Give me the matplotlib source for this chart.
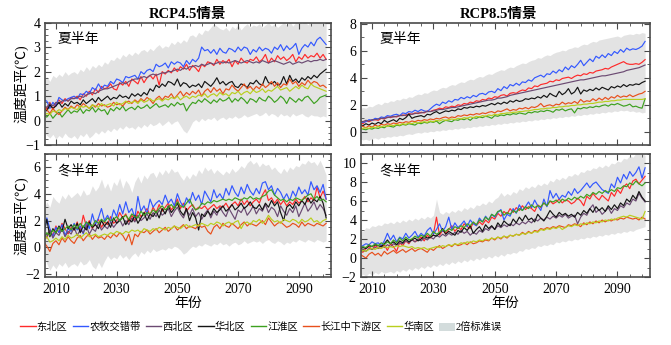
import numpy as np
import matplotlib
matplotlib.use("Agg")
import matplotlib.pyplot as plt
from matplotlib.ticker import MultipleLocator, FixedLocator
from matplotlib.lines import Line2D
from matplotlib.patches import Patch

plt.rcParams['font.family'] = ['Liberation Serif', 'Noto Sans CJK SC']
plt.rcParams['axes.unicode_minus'] = True

years = np.arange(2006, 2100)

regions = ["东北区", "农牧交错带", "西北区", "华北区", "江淮区", "长江中下游区", "华南区"]
colors = ["#ff2a2a", "#3358ff", "#6b4a72", "#141414", "#3da11f", "#e8501c", "#b9cf1e"]
band_label = "2倍标准误"
panel_titles = ["RCP4.5情景", "RCP8.5情景"]
season_labels = ["夏半年", "冬半年"]
ylabel_text = "温度距平(℃)"
xlabel_text = "年份"

# ---------------- RCP4.5, summer half-year ----------------
s45_ne = [0.6, 0.5, 0.75, 0.45, 0.7, 0.85, 0.7, 0.9, 0.8, 0.95,
          0.9, 1.0, 0.85, 1.1, 1.0, 1.2, 1.05, 1.3, 1.15, 1.4,
          1.3, 1.35, 1.5, 1.3, 1.25, 1.55, 1.45, 1.6, 1.4, 1.7,
          1.6, 1.5, 1.8, 1.55, 1.75, 1.85, 1.7, 1.9, 1.45, 2.0,
          1.9, 2.05, 1.95, 2.15, 2.0, 2.2, 2.1, 2.3, 2.05, 2.25,
          2.15, 2.0, 2.3, 2.2, 2.4, 2.35, 2.25, 2.5, 2.3, 2.45,
          2.35, 2.5, 2.2, 2.45, 2.3, 2.55, 2.4, 2.35, 2.5, 2.45,
          2.6, 2.4, 2.5, 2.7, 2.35, 2.55, 2.4, 2.65, 2.5, 2.6,
          2.45, 2.55, 2.7, 2.4, 2.6, 2.5, 2.7, 2.55, 2.65, 2.6,
          2.75, 2.55, 2.7, 2.5]
s45_nm = [0.85, 0.8, 0.5, 0.75, 0.6, 0.95, 0.85, 0.8, 0.9, 0.95,
          1.0, 0.9, 1.1, 1.05, 1.2, 1.1, 1.35, 1.25, 1.5, 1.3,
          1.45, 1.4, 1.6, 1.5, 1.7, 1.65, 1.55, 1.8, 1.75, 1.8,
          1.85, 1.7, 2.0, 1.9, 2.05, 2.1, 2.0, 2.3, 2.2, 2.25,
          2.35, 2.15, 2.4, 2.3, 2.4, 2.35, 2.2, 2.45, 2.3, 2.5,
          2.4, 2.55, 3.0, 2.85, 2.9, 2.75, 2.9, 2.7, 2.95, 2.8,
          2.75, 2.95, 2.9, 2.8, 3.0, 2.85, 3.0, 2.95, 2.7, 2.9,
          2.8, 3.0, 2.85, 2.95, 2.9, 2.75, 3.0, 2.9, 3.1, 2.85,
          3.05, 2.9, 3.0, 3.15, 2.7, 2.95, 3.1, 3.0, 3.2, 3.05,
          3.3, 3.4, 3.25, 3.1]
s45_nw = [0.6, 0.55, 0.7, 0.6, 0.75, 0.7, 0.8, 0.85, 0.8, 0.9,
          0.9, 0.95, 1.0, 0.95, 1.05, 1.1, 1.15, 1.1, 1.2, 1.25,
          1.3, 1.3, 1.35, 1.4, 1.45, 1.5, 1.55, 1.5, 1.6, 1.65,
          1.7, 1.7, 1.75, 1.8, 1.75, 1.85, 1.9, 1.85, 1.9, 1.95,
          1.95, 2.0, 2.0, 2.05, 2.1, 2.05, 2.15, 2.1, 2.2, 2.2,
          2.25, 2.2, 2.3, 2.25, 2.3, 2.35, 2.3, 2.35, 2.4, 2.35,
          2.4, 2.35, 2.4, 2.45, 2.4, 2.35, 2.4, 2.45, 2.4, 2.35,
          2.4, 2.35, 2.45, 2.4, 2.35, 2.4, 2.45, 2.4, 2.35, 2.3,
          2.35, 2.4, 2.3, 2.35, 2.4, 2.35, 2.4, 2.45, 2.4, 2.45,
          2.45, 2.5, 2.45, 2.5]
s45_nc = [0.55, 0.4, 0.65, 0.5, 0.6, 0.75, 0.55, 0.7, 0.6, 0.8,
          0.7, 0.75, 0.65, 0.85, 0.7, 0.8, 0.9, 0.75, 0.95, 0.8,
          0.9, 1.0, 0.85, 0.95, 0.9, 1.05, 0.95, 1.0, 0.9, 1.1,
          1.0, 1.1, 1.0, 1.15, 1.05, 1.3, 1.2, 1.45, 1.35, 1.5,
          1.4, 1.6, 1.55, 1.45, 1.7, 1.4, 1.55, 1.5, 1.35, 1.45,
          1.4, 1.5, 1.35, 1.6, 1.5, 1.4, 1.55, 1.75, 1.5, 1.6,
          1.45, 1.55, 1.6, 1.4, 1.35, 1.5, 1.45, 1.35, 1.55, 1.5,
          1.65, 1.5, 1.45, 1.8, 1.55, 1.5, 1.6, 1.45, 1.5, 1.8,
          1.5, 1.85, 1.6, 1.7, 1.55, 1.75, 1.65, 1.8, 1.7, 1.85,
          1.75, 1.9, 2.0, 2.1]
s45_jh = [0.2, 0.15, 0.3, 0.1, 0.25, 0.35, 0.15, 0.3, 0.45, 0.3,
          0.4, 0.35, 0.5, 0.3, 0.45, 0.4, 0.55, 0.35, 0.5, 0.4,
          0.45, 0.25, 0.5, 0.4, 0.55, 0.45, 0.6, 0.4, 0.5, 0.55,
          0.45, 0.6, 0.5, 0.55, 0.65, 0.5, 0.6, 0.7, 0.55, 0.6,
          0.65, 0.55, 0.7, 0.6, 0.75, 0.65, 0.7, 0.4, 0.6, 0.75,
          0.7, 0.85, 0.75, 0.9, 0.8, 0.7, 0.85, 0.75, 0.9, 0.8,
          0.85, 0.95, 0.75, 0.9, 0.8, 0.95, 0.85, 0.7, 0.9, 0.85,
          0.75, 0.95, 0.85, 0.8, 1.0, 0.9, 0.75, 0.85, 1.0, 0.9,
          0.7, 0.95, 0.85, 0.75, 0.9, 0.8, 0.95, 1.0, 0.85, 0.7,
          0.8, 0.95, 1.0, 1.05]
s45_yr = [0.55, 0.45, 0.3, 0.5, 0.35, 0.25, 0.4, 0.55, 0.45, 0.6,
          0.5, 0.65, 0.55, 0.7, 0.6, 0.5, 0.65, 0.55, 0.7, 0.6,
          0.65, 0.55, 0.6, 0.75, 0.65, 0.7, 0.6, 0.75, 0.8, 0.7,
          0.85, 0.75, 0.9, 0.8, 0.95, 0.85, 0.7, 0.9, 1.0, 0.85,
          1.0, 0.95, 1.1, 0.9, 1.05, 1.2, 1.0, 1.15, 1.05, 1.2,
          1.1, 1.25, 1.0, 1.2, 1.3, 1.15, 1.35, 1.2, 1.3, 1.1,
          1.3, 1.25, 1.45, 1.3, 1.2, 1.35, 1.5, 1.3, 1.4, 1.25,
          1.4, 1.3, 1.5, 1.35, 1.45, 1.6, 1.4, 1.55, 1.35, 1.5,
          1.45, 1.7, 1.5, 1.6, 1.4, 1.55, 1.45, 1.65, 1.5, 1.6,
          1.55, 1.4, 1.45, 1.35]
s45_sc = [0.2, 0.3, 0.25, 0.4, 0.35, 0.45, 0.4, 0.5, 0.45, 0.55,
          0.5, 0.45, 0.6, 0.55, 0.6, 0.5, 0.65, 0.6, 0.55, 0.7,
          0.6, 0.65, 0.7, 0.6, 0.75, 0.65, 0.7, 0.8, 0.7, 0.75,
          0.8, 0.7, 0.85, 0.75, 0.8, 0.9, 0.8, 0.85, 0.9, 0.8,
          0.9, 0.85, 0.95, 0.9, 1.0, 0.85, 0.95, 1.0, 0.9, 1.0,
          0.95, 1.05, 1.0, 1.1, 0.95, 1.05, 1.1, 1.0, 1.15, 1.05,
          1.1, 1.0, 1.15, 1.1, 1.2, 1.05, 1.15, 1.2, 1.1, 1.25,
          1.15, 1.2, 1.3, 1.15, 1.25, 1.2, 1.3, 1.4, 1.25, 1.3,
          1.35, 1.2, 1.3, 1.4, 1.3, 1.45, 1.35, 1.3, 1.5, 1.4,
          1.35, 1.3, 1.25, 1.2]
s45_hi = [1.7, 1.8, 1.6, 1.85, 1.75, 1.9, 1.8, 2.0, 1.85, 1.95,
          2.0, 1.9, 2.1, 2.0, 2.2, 2.05, 2.25, 2.15, 2.3, 2.2,
          2.4, 2.3, 2.5, 2.45, 2.6, 2.5, 2.7, 2.6, 2.75, 2.65,
          2.8, 2.7, 2.85, 2.9, 2.8, 2.95, 2.85, 3.0, 3.1, 2.95,
          3.05, 3.0, 3.2, 3.1, 3.25, 3.15, 3.3, 3.2, 3.45, 3.5,
          3.4, 3.6, 3.5, 3.7, 3.65, 3.8, 3.95, 3.85, 3.75, 3.7,
          3.8, 3.65, 3.85, 3.75, 3.9, 3.7, 3.85, 3.95, 3.8, 3.9,
          3.85, 3.95, 3.8, 3.9, 4.0, 3.85, 3.95, 3.8, 3.9, 4.0,
          3.9, 4.05, 3.85, 4.0, 4.1, 3.95, 4.05, 3.9, 4.1, 4.0,
          4.1, 4.0, 3.95, 4.05]
s45_lo = [-0.45, -0.6, -0.7, -0.55, -0.75, -0.6, -0.7, -0.5, -0.65, -0.7,
          -0.6, -0.75, -0.55, -0.65, -0.5, -0.7, -0.6, -0.45, -0.55, -0.4,
          -0.5, -0.35, -0.45, -0.3, -0.4, -0.25, -0.35, -0.2, -0.3, -0.25,
          -0.35, -0.2, -0.3, -0.15, -0.25, -0.1, -0.2, -0.15, -0.05, -0.2,
          -0.1, 0.0, -0.15, -0.05, 0.0, -0.2, -0.4, -0.5, -0.3, -0.05,
          0.05, -0.05, 0.1, 0.0, 0.1, 0.05, 0.15, 0.0, 0.1, 0.15,
          0.05, 0.15, 0.1, 0.2, 0.1, 0.15, 0.25, 0.15, 0.2, 0.25,
          0.3, 0.2, 0.25, 0.35, 0.2, 0.3, 0.25, 0.15, 0.3, 0.2,
          0.25, 0.15, 0.3, 0.2, 0.25, 0.3, 0.2, 0.15, 0.25, 0.2,
          0.2, 0.15, 0.2, 0.15]

# ---------------- RCP8.5, summer half-year ----------------
s85_ne = [0.7, 0.6, 0.8, 0.75, 0.85, 0.9, 0.85, 1.0, 0.95, 1.1,
          1.05, 1.15, 1.1, 1.2, 1.25, 1.2, 1.35, 1.3, 1.4, 1.35,
          1.45, 1.4, 1.55, 1.5, 1.6, 1.65, 1.75, 1.7, 1.85, 1.8,
          1.9, 1.85, 2.0, 1.95, 2.1, 2.05, 2.2, 2.15, 2.3, 2.25,
          2.4, 2.35, 2.5, 2.45, 2.6, 2.55, 2.7, 2.75, 2.65, 2.85,
          2.9, 2.85, 3.0, 3.1, 3.05, 3.25, 3.2, 3.4, 3.35, 3.5,
          3.55, 3.6, 3.75, 3.7, 3.85, 3.8, 3.95, 4.0, 4.05, 3.95,
          4.1, 4.2, 4.15, 4.3, 4.25, 4.4, 4.35, 4.5, 4.55, 4.6,
          4.7, 4.65, 4.8, 4.9, 5.0, 5.1, 5.2, 5.05, 5.0, 5.0,
          5.05, 5.0, 5.15, 5.35]
s85_nm = [0.8, 0.7, 0.75, 0.9, 0.85, 1.0, 0.95, 1.1, 1.05, 1.2,
          1.15, 1.25, 1.3, 1.2, 1.4, 1.35, 1.5, 1.45, 1.6, 1.5,
          1.65, 1.55, 1.5, 1.7, 1.9, 2.05, 1.95, 2.2, 2.1, 2.3,
          2.2, 2.4, 2.35, 2.55, 2.45, 2.6, 2.5, 2.7, 2.6, 2.8,
          2.85, 2.75, 2.95, 3.0, 2.9, 3.2, 3.05, 3.35, 3.2, 3.5,
          3.4, 3.6, 3.45, 3.7, 3.65, 3.85, 3.75, 4.0, 4.1, 4.2,
          4.05, 4.3, 4.25, 4.5, 4.35, 4.6, 4.45, 4.8, 4.6, 4.9,
          4.75, 5.0, 5.3, 4.9, 5.15, 5.4, 5.2, 5.6, 5.45, 5.7,
          5.5, 5.8, 5.65, 5.95, 5.8, 6.1, 5.9, 6.2, 6.05, 6.15,
          6.1, 6.2, 6.35, 6.7]
s85_nw = [0.8, 0.75, 0.85, 0.8, 0.9, 0.9, 0.95, 1.0, 1.0, 1.05,
          1.1, 1.1, 1.15, 1.2, 1.2, 1.25, 1.3, 1.3, 1.35, 1.4,
          1.4, 1.45, 1.5, 1.5, 1.55, 1.6, 1.65, 1.65, 1.7, 1.75,
          1.8, 1.8, 1.85, 1.9, 1.95, 2.0, 2.05, 2.1, 2.15, 2.2,
          2.25, 2.3, 2.35, 2.35, 2.4, 2.5, 2.5, 2.55, 2.6, 2.7,
          2.75, 2.8, 2.85, 2.9, 2.95, 3.0, 3.05, 3.1, 3.15, 3.2,
          3.25, 3.3, 3.35, 3.4, 3.45, 3.5, 3.55, 3.6, 3.65, 3.7,
          3.75, 3.8, 3.85, 3.85, 3.9, 3.95, 4.0, 4.05, 4.1, 4.15,
          4.15, 4.2, 4.25, 4.3, 4.35, 4.4, 4.45, 4.55, 4.6, 4.65,
          4.7, 4.75, 4.85, 4.95]
s85_nc = [0.55, 0.45, 0.6, 0.5, 0.65, 0.55, 0.7, 0.6, 0.85, 0.7,
          0.8, 0.9, 0.75, 1.0, 0.9, 1.05, 1.3, 1.0, 1.1, 1.15,
          1.2, 1.1, 1.3, 1.25, 1.4, 1.5, 1.35, 1.45, 1.55, 1.5,
          1.6, 1.55, 1.7, 1.65, 1.8, 1.75, 1.85, 1.8, 1.9, 1.85,
          1.95, 1.9, 2.0, 2.1, 2.0, 2.15, 2.05, 2.2, 2.1, 2.3,
          2.2, 2.35, 2.25, 2.3, 2.45, 2.4, 2.5, 2.45, 2.6, 2.5,
          2.7, 2.55, 2.85, 2.7, 2.6, 3.0, 2.75, 2.9, 3.2, 2.8,
          2.95, 3.3, 2.8, 3.1, 3.0, 3.15, 3.05, 3.25, 3.1, 3.3,
          3.2, 3.1, 3.35, 3.25, 3.4, 3.3, 3.5, 3.35, 3.5, 3.45,
          3.55, 3.5, 3.65, 3.75]
s85_jh = [0.3, 0.2, 0.15, 0.25, 0.2, 0.3, 0.25, 0.35, 0.3, 0.45,
          0.4, 0.35, 0.5, 0.45, 0.55, 0.5, 0.6, 0.55, 0.5, 0.65,
          0.6, 0.7, 0.65, 0.75, 0.7, 0.8, 0.6, 0.75, 0.85, 0.8,
          0.75, 0.9, 0.85, 0.95, 0.9, 1.0, 0.85, 1.05, 1.0, 1.1,
          1.05, 1.15, 1.1, 1.0, 1.2, 1.15, 1.25, 1.2, 1.3, 1.25,
          1.35, 1.3, 1.4, 1.35, 1.3, 1.45, 1.4, 1.5, 1.45, 1.55,
          1.5, 1.6, 1.55, 1.45, 1.65, 1.6, 1.7, 1.55, 1.65, 1.7,
          1.4, 1.75, 1.7, 1.8, 1.75, 1.85, 1.8, 1.9, 1.85, 1.95,
          2.0, 1.9, 2.05, 2.0, 2.1, 2.0, 1.9, 1.95, 2.05, 1.85,
          1.9, 1.8, 1.75, 2.45]
s85_yr = [0.5, 0.4, 0.3, 0.45, 0.35, 0.5, 0.4, 0.55, 0.5, 0.6,
          0.55, 0.65, 0.6, 0.7, 0.65, 0.75, 0.7, 0.8, 0.75, 0.85,
          0.8, 0.9, 0.85, 0.95, 0.9, 1.0, 0.95, 1.05, 1.1, 1.0,
          1.1, 1.05, 1.2, 1.15, 1.25, 1.2, 1.3, 1.25, 1.35, 1.3,
          1.4, 1.35, 1.45, 1.5, 1.4, 1.55, 1.5, 1.6, 1.7, 1.55,
          1.65, 1.6, 1.75, 1.7, 1.8, 1.7, 1.85, 1.8, 1.9, 2.1,
          1.85, 1.95, 2.0, 1.9, 2.05, 2.0, 2.2, 2.05, 2.15, 2.1,
          2.25, 2.1, 2.4, 2.2, 2.3, 2.25, 2.45, 2.3, 2.5, 2.35,
          2.55, 2.4, 2.6, 2.5, 2.7, 2.55, 2.65, 2.6, 2.75, 2.6,
          2.7, 2.8, 2.85, 3.0]
s85_sc = [0.2, 0.25, 0.3, 0.25, 0.35, 0.3, 0.4, 0.35, 0.45, 0.4,
          0.5, 0.45, 0.55, 0.5, 0.6, 0.55, 0.65, 0.6, 0.7, 0.65,
          0.7, 0.75, 0.7, 0.8, 0.75, 0.85, 0.8, 0.9, 0.85, 0.9,
          0.95, 0.9, 1.0, 0.95, 1.05, 1.0, 1.1, 1.05, 1.15, 1.1,
          1.2, 1.15, 1.25, 1.2, 1.3, 1.25, 1.35, 1.35, 1.4, 1.4,
          1.45, 1.45, 1.5, 1.5, 1.55, 1.55, 1.6, 1.65, 1.65, 1.7,
          1.7, 1.75, 1.75, 1.8, 1.8, 1.85, 1.85, 1.9, 1.9, 1.95,
          1.95, 2.0, 2.0, 2.05, 2.05, 2.1, 2.1, 2.15, 2.2, 2.2,
          2.25, 2.25, 2.3, 2.3, 2.35, 2.35, 2.4, 2.4, 2.4, 2.4,
          2.4, 2.4, 2.4, 2.45]
s85_hi = [1.7, 1.8, 1.75, 1.9, 1.85, 2.0, 2.1, 2.0, 2.2, 2.15,
          2.3, 2.25, 2.4, 2.35, 2.5, 2.45, 2.6, 2.55, 2.7, 2.8,
          2.75, 2.9, 2.85, 3.0, 3.1, 3.05, 3.2, 3.3, 3.25, 3.4,
          3.5, 3.45, 3.6, 3.7, 3.65, 3.8, 3.9, 3.85, 4.0, 4.1,
          4.05, 4.2, 4.3, 4.25, 4.4, 4.5, 4.6, 4.55, 4.7, 4.8,
          4.75, 4.9, 5.0, 5.1, 5.05, 5.2, 5.3, 5.35, 5.5, 5.45,
          5.6, 5.7, 5.65, 5.8, 5.9, 5.95, 6.05, 6.0, 6.15, 6.2,
          6.3, 6.25, 6.4, 6.5, 6.45, 6.6, 6.7, 6.65, 6.8, 6.85,
          6.9, 6.95, 7.0, 7.05, 7.1, 7.0, 7.15, 7.2, 7.25, 7.2,
          7.3, 7.25, 7.35, 7.3]
s85_lo = [-0.5, -0.6, -0.55, -0.65, -0.5, -0.45, -0.55, -0.4, -0.45, -0.35,
          -0.4, -0.3, -0.35, -0.25, -0.3, -0.2, -0.15, -0.2, -0.1, -0.05,
          -0.1, 0.0, -0.05, 0.05, 0.0, 0.1, 0.05, 0.15, 0.1, 0.2,
          0.15, 0.25, 0.2, 0.3, 0.25, 0.35, 0.3, 0.4, 0.35, 0.45,
          0.4, 0.5, 0.45, 0.55, 0.5, 0.6, 0.55, 0.65, 0.6, 0.7,
          0.65, 0.75, 0.7, 0.8, 0.75, 0.85, 0.8, 0.9, 0.85, 0.95,
          0.9, 1.0, 0.95, 1.05, 1.0, 1.1, 1.05, 1.15, 1.1, 1.2,
          1.15, 1.25, 1.2, 1.3, 1.25, 1.35, 1.3, 1.4, 1.35, 1.45,
          1.4, 1.5, 1.45, 1.55, 1.5, 1.6, 1.55, 1.6, 1.5, 1.55,
          1.45, 1.5, 1.4, 1.45]

# ---------------- RCP4.5, winter half-year ----------------
w45_ne = [1.0, 0.7, 1.3, 0.9, 1.6, 1.1, 1.8, 1.4, 1.0, 1.5,
          1.3, 1.9, 1.2, 2.4, 1.6, 2.0, 1.4, 1.8, 2.1, 1.5,
          1.9, 1.7, 2.3, 1.8, 2.0, 2.6, 2.2, 2.5, 1.9, 2.4,
          2.0, 2.7, 2.3, 2.5, 2.9, 2.4, 3.0, 2.6, 3.2, 2.7,
          3.0, 3.3, 2.8, 3.1, 3.6, 2.9, 3.3, 2.7, 3.0, 3.2,
          2.8, 3.0, 2.9, 3.1, 2.8, 3.0, 3.2, 2.9, 3.1, 3.0,
          3.3, 2.9, 3.2, 3.4, 3.1, 3.6, 3.2, 3.5, 3.1, 3.4,
          3.6, 3.3, 3.9, 4.3, 3.5, 3.7, 3.3, 3.6, 3.2, 3.5,
          3.1, 3.4, 3.2, 3.6, 3.3, 3.5, 3.8, 3.4, 3.7, 3.5,
          4.5, 3.7, 4.2, 3.6]
w45_nm = [0.9, 2.2, 1.4, 0.8, 1.5, 1.1, 1.7, 0.9, 1.4, 1.2,
          1.8, 1.3, 1.6, 1.0, 1.9, 1.4, 2.5, 1.7, 2.2, 2.9,
          2.0, 2.4, 1.9, 2.8, 2.3, 3.2, 2.5, 3.4, 2.6, 2.9,
          2.2, 3.8, 2.7, 3.1, 2.5, 3.6, 3.0, 3.3, 3.5, 3.2,
          3.9, 3.3, 3.6, 3.1, 4.0, 3.4, 3.0, 3.7, 3.3, 4.1,
          3.5, 3.9, 3.2, 4.2, 3.8, 3.4, 4.3, 3.7, 4.0, 3.6,
          4.4, 3.9, 4.6, 4.1, 3.8, 4.5, 4.0, 4.7, 4.2, 3.9,
          4.4, 4.0, 4.8, 4.9, 4.3, 4.6, 3.9, 4.4, 4.1, 3.6,
          4.0, 3.5, 4.2, 3.8, 4.5, 4.0, 4.3, 3.9, 4.9, 4.3,
          4.6, 4.1, 4.7, 3.6]
w45_nw = [1.0, 0.8, 1.3, 0.7, 1.1, 0.9, 1.4, 0.8, 1.2, 1.0,
          1.5, 0.9, 1.3, 1.1, 1.6, 1.0, 1.4, 1.2, 1.8, 1.3,
          1.6, 1.4, 1.9, 1.5, 1.8, 2.1, 1.6, 2.0, 1.7, 2.2,
          1.9, 2.4, 2.0, 2.2, 2.5, 2.1, 2.6, 2.3, 2.8, 2.4,
          2.6, 2.9, 2.3, 2.7, 3.0, 2.5, 2.2, 2.8, 2.4, 2.9,
          2.3, 2.6, 2.1, 2.5, 2.8, 2.2, 2.7, 2.4, 3.0, 2.6,
          2.3, 2.9, 2.5, 2.1, 2.8, 2.6, 3.0, 2.4, 2.7, 3.1,
          2.5, 2.9, 2.7, 3.2, 2.6, 3.0, 2.8, 2.3, 3.1, 2.7,
          2.4, 2.9, 2.6, 3.1, 2.3, 2.8, 3.3, 2.7, 3.0, 3.4,
          2.8, 3.2, 2.9, 2.4]
w45_nc = [1.0, 2.1, 0.8, 1.4, 1.1, 1.6, 1.2, 2.1, 1.4, 1.7,
          1.3, 1.8, 1.1, 1.6, 1.3, 1.9, 1.5, 1.7, 1.4, 2.0,
          1.6, 1.9, 1.5, 2.2, 1.8, 2.0, 2.3, 1.7, 2.1, 1.9,
          2.4, 1.8, 2.2, 2.6, 2.0, 2.5, 2.3, 2.7, 2.2, 2.9,
          2.5, 3.1, 2.6, 2.9, 3.3, 2.7, 2.4, 2.9, 2.0, 2.6,
          2.2, 1.3, 2.5, 2.3, 2.7, 2.4, 2.9, 2.6, 2.8, 3.1,
          2.7, 2.9, 3.2, 2.8, 3.0, 3.3, 2.9, 3.1, 3.4, 3.0,
          2.9, 3.2, 2.8, 3.3, 3.0, 3.5, 3.1, 3.4, 2.6, 2.0,
          3.0, 3.2, 2.9, 3.4, 3.1, 3.5, 3.2, 3.7, 3.3, 3.6,
          3.4, 3.8, 3.3, 2.2]
w45_jh = [0.7, 1.1, 0.9, 1.3, 1.1, 1.5, 1.2, 1.4, 1.6, 1.3,
          1.7, 1.4, 1.8, 1.5, 1.9, 1.7, 1.6, 2.0, 1.8, 2.1,
          1.9, 2.2, 2.0, 2.1, 2.3, 2.0, 2.2, 2.4, 2.1, 2.5,
          2.3, 2.2, 2.7, 2.4, 2.6, 2.5, 2.8, 2.6, 2.9, 3.1,
          2.8, 3.0, 3.2, 2.9, 3.4, 3.1, 3.0, 3.3, 3.6, 3.1,
          2.8, 2.9, 3.3, 3.2, 3.4, 3.3, 3.5, 3.4, 3.5, 3.6,
          3.5, 3.6, 3.5, 3.7, 3.6, 3.5, 3.7, 3.6, 3.8, 3.6,
          3.7, 3.6, 3.8, 3.9, 4.2, 4.3, 3.9, 3.7, 3.5, 3.6,
          3.4, 3.6, 3.5, 3.7, 3.6, 3.5, 3.7, 3.9, 4.0, 3.6,
          3.8, 3.5, 3.6, 3.4]
w45_yr = [0.4, 0.1, -0.3, 0.3, 0.5, 0.2, 0.7, 0.4, 0.8, 0.5,
          0.3, 0.7, 0.9, 0.5, 0.8, 1.0, 0.6, 0.9, 0.7, 0.8,
          0.6, 0.9, 0.7, 1.0, 0.8, 1.1, 0.9, 0.5, 1.0, 0.2,
          1.0, 0.8, 1.2, 1.1, 1.3, 1.0, 1.2, 1.4, 1.1, 1.3,
          1.5, 1.2, 1.4, 1.6, 1.3, 1.5, 1.7, 1.4, 1.6, 1.5,
          1.4, 1.7, 1.5, 1.6, 1.2, 1.0, 1.5, 1.7, 1.4, 1.8,
          1.6, 1.5, 1.8, 1.6, 1.4, 1.7, 1.9, 1.6, 1.8, 1.7,
          1.6, 1.8, 2.0, 1.7, 2.2, 1.9, 1.6, 1.8, 1.9, 1.7,
          1.5, 1.6, 1.8, 1.7, 1.5, 1.9, 1.6, 1.8, 1.7, 1.6,
          1.8, 1.7, 1.6, 1.8]
w45_sc = [0.6, 0.8, 0.4, 0.5, 0.7, 0.5, 0.8, 0.6, 0.9, 0.7,
          0.8, 1.0, 0.7, 0.9, 1.1, 0.8, 0.9, 1.0, 0.8, 0.9,
          1.0, 0.9, 1.1, 1.0, 1.2, 1.1, 1.0, 1.2, 1.1, 1.3,
          1.2, 1.3, 1.1, 1.4, 1.3, 1.2, 1.4, 1.3, 1.5, 1.4,
          1.3, 1.5, 1.4, 1.6, 1.5, 1.4, 1.6, 1.7, 1.5, 1.6,
          1.7, 1.6, 1.8, 1.7, 1.6, 1.8, 1.7, 1.9, 1.8, 1.6,
          1.8, 1.9, 1.7, 1.9, 2.0, 1.4, 1.8, 1.9, 1.7, 2.0,
          1.9, 2.1, 1.8, 2.0, 2.4, 2.1, 1.9, 2.0, 1.8, 2.1,
          2.0, 1.9, 2.1, 2.0, 1.8, 2.1, 1.9, 2.0, 2.2, 1.9,
          2.0, 1.8, 2.0, 2.1]
w45_hi = [2.9, 3.4, 3.0, 3.8, 3.5, 3.3, 3.9, 3.6, 4.0, 3.7,
          3.9, 4.1, 3.8, 4.3, 3.9, 4.0, 4.6, 4.2, 4.5, 5.1,
          4.4, 4.8, 4.2, 4.9, 4.6, 5.2, 4.4, 5.0, 4.7, 4.1,
          4.9, 5.3, 4.8, 5.4, 5.1, 5.5, 5.6, 5.2, 5.7, 5.4,
          5.8, 5.5, 5.9, 5.6, 5.7, 5.3, 5.0, 5.4, 5.1, 5.5,
          5.3, 5.8, 5.5, 6.0, 5.7, 5.9, 5.5, 5.8, 5.6, 5.4,
          5.7, 5.5, 5.9, 5.6, 5.8, 6.1, 5.9, 6.3, 6.5, 6.2,
          6.4, 6.0, 6.3, 6.1, 6.2, 5.8, 6.0, 5.7, 5.5, 5.9,
          5.6, 6.0, 5.8, 6.1, 6.0, 6.3, 6.2, 6.5, 6.3, 6.4,
          6.1, 6.5, 6.0, 5.4]
w45_lo = [-0.5, -1.2, -1.7, -1.3, -1.6, -1.2, -1.4, -1.1, -1.5, -1.3,
          -1.2, -1.4, -1.0, -1.3, -1.2, -0.9, -1.4, -1.6, -1.1, -1.5,
          -1.0, -0.6, -0.9, -0.7, -0.85, -0.5, -0.8, -0.6, -0.9, -0.6,
          -0.4, -0.7, -0.3, -0.5, -0.2, -0.4, -0.1, -0.3, -0.2, -0.1,
          -0.2, 0.0, -0.1, 0.1, 0.0, -0.2, -0.5, -0.35, -0.1, 0.1,
          0.0, 0.2, 0.1, 0.3, 0.2, 0.1, 0.3, 0.2, 0.4, 0.2,
          0.3, 0.1, 0.3, 0.4, 0.2, 0.3, 0.5, 0.3, 0.4, 0.5,
          0.4, 0.5, 0.3, 0.5, 0.6, 0.4, 0.3, 0.5, 0.4, 0.2,
          0.4, 0.3, 0.5, 0.4, 0.6, 0.5, 0.4, 0.6, 0.5, 0.4,
          0.6, 0.5, 0.4, 0.5]

# ---------------- RCP8.5, winter half-year ----------------
w85_ne = [0.8, 0.6, 1.0, 1.2, 0.9, 1.3, 1.1, 1.0, 1.4, 0.8,
          1.5, 1.2, 0.7, 1.6, 1.3, 1.8, 1.5, 2.0, 1.7, 1.9,
          2.2, 1.8, 2.4, 2.1, 2.5, 4.3, 2.4, 2.9, 2.6, 3.0,
          3.4, 2.8, 3.2, 3.0, 3.6, 3.3, 3.1, 3.7, 3.4, 3.8,
          3.5, 4.0, 3.7, 4.3, 4.1, 4.7, 4.4, 4.9, 4.6, 5.2,
          4.8, 5.3, 5.0, 5.5, 5.1, 5.4, 5.2, 4.9, 5.6, 5.3,
          5.8, 5.5, 6.0, 5.7, 5.9, 6.2, 5.8, 6.1, 6.0, 5.7,
          5.9, 6.3, 6.0, 5.5, 6.5, 6.2, 6.8, 6.4, 6.1, 6.6,
          6.3, 6.0, 6.9, 6.5, 7.2, 6.8, 7.5, 7.8, 7.3, 8.1,
          8.3, 7.8, 8.2, 8.6]
w85_nm = [1.1, 1.3, 1.5, 1.4, 1.7, 1.5, 1.6, 1.3, 1.8, 2.6,
          1.9, 2.4, 1.7, 2.2, 2.0, 2.6, 2.1, 2.4, 2.8, 2.2,
          2.6, 2.3, 2.9, 3.2, 2.5, 3.0, 3.6, 2.8, 3.3, 4.3,
          3.0, 3.7, 3.2, 3.5, 3.9, 3.3, 4.0, 3.6, 3.4, 4.2,
          3.8, 4.4, 4.0, 4.6, 4.3, 4.8, 5.1, 4.0, 4.6, 4.4,
          5.2, 4.7, 5.6, 5.0, 5.4, 5.9, 5.3, 6.1, 5.5, 5.0,
          6.2, 5.4, 7.1, 6.3, 6.8, 6.2, 6.6, 6.4, 7.0, 6.6,
          7.3, 6.8, 7.1, 7.5, 7.9, 7.4, 7.8, 8.0, 7.6, 7.2,
          7.0, 6.8, 7.8, 7.4, 8.5, 7.9, 8.8, 8.3, 9.1, 8.6,
          9.0, 9.6, 8.4, 9.5]
w85_nw = [0.6, 0.8, 0.7, 1.0, 0.9, 1.1, 1.0, 1.3, 1.1, 1.4,
          1.2, 1.5, 1.3, 1.6, 1.5, 1.8, 1.6, 1.9, 1.7, 2.0,
          1.8, 2.1, 1.9, 2.2, 2.0, 2.4, 2.2, 2.5, 2.3, 2.6,
          2.4, 2.7, 2.5, 2.9, 2.6, 2.8, 2.4, 2.7, 2.5, 2.9,
          2.7, 3.1, 2.9, 3.3, 3.0, 3.4, 3.2, 3.5, 3.3, 3.6,
          3.4, 3.7, 3.5, 3.8, 3.6, 3.9, 3.7, 4.1, 3.9, 4.2,
          4.0, 4.3, 4.1, 4.4, 4.2, 4.5, 4.3, 4.6, 4.2, 4.4,
          4.5, 3.6, 4.3, 4.7, 4.5, 5.2, 5.6, 4.8, 5.1, 4.6,
          4.9, 5.3, 4.7, 5.2, 5.0, 5.5, 5.3, 5.8, 5.6, 6.2,
          6.0, 6.8, 6.3, 5.9]
w85_nc = [0.9, 1.1, 1.0, 1.3, 1.2, 1.4, 1.3, 1.2, 1.5, 1.9,
          1.5, 1.7, 1.4, 1.8, 1.6, 2.0, 1.7, 1.9, 2.1, 1.8,
          2.0, 2.3, 2.1, 2.2, 2.4, 2.3, 2.6, 3.1, 2.5, 2.8,
          2.6, 2.4, 2.9, 2.7, 3.2, 2.9, 3.4, 2.6, 3.0, 3.3,
          2.8, 3.5, 3.1, 3.4, 3.0, 3.7, 3.3, 3.9, 3.6, 3.4,
          4.1, 3.7, 4.3, 3.9, 4.5, 4.0, 4.2, 3.8, 4.6, 4.2,
          3.9, 4.4, 5.0, 4.6, 4.3, 4.8, 4.5, 4.7, 4.4, 4.6,
          4.3, 4.8, 4.5, 5.0, 4.7, 5.2, 4.8, 5.4, 5.0, 5.3,
          4.9, 5.5, 5.1, 5.6, 5.2, 5.8, 5.5, 6.2, 5.9, 6.6,
          6.2, 7.0, 6.4, 6.0]
w85_jh = [1.0, 1.2, 1.1, 1.4, 1.2, 1.5, 1.3, 1.6, 1.4, 1.7,
          1.5, 1.9, 1.6, 2.1, 1.8, 2.2, 1.9, 2.0, 2.3, 2.1,
          2.4, 2.2, 2.6, 2.3, 2.8, 2.5, 2.7, 3.0, 2.8, 3.1,
          2.9, 3.3, 3.1, 3.4, 3.2, 3.6, 3.4, 3.8, 3.5, 4.0,
          3.8, 4.3, 4.0, 4.6, 4.4, 4.9, 5.0, 4.5, 4.8, 4.6,
          5.0, 4.8, 5.2, 5.0, 5.4, 5.2, 5.6, 5.3, 5.5, 5.4,
          5.8, 5.5, 6.0, 5.9, 6.1, 5.8, 6.2, 6.0, 6.3, 6.1,
          6.4, 6.2, 6.5, 6.3, 6.7, 6.5, 6.9, 6.7, 7.0, 6.8,
          7.1, 6.9, 7.2, 7.0, 7.4, 7.3, 7.6, 7.5, 7.9, 7.7,
          8.1, 7.8, 7.6, 7.9]
w85_yr = [0.4, 0.2, 0.0, 0.4, 0.6, 0.3, 0.5, 0.2, 0.7, 0.4,
          0.6, 0.8, 0.5, 0.7, 0.9, 0.6, 0.8, 1.0, 0.7, 0.9,
          1.0, 0.8, 0.6, 1.0, 0.8, 1.1, 1.3, 1.0, 1.2, 1.4,
          1.2, 1.5, 1.3, 1.4, 1.6, 1.4, 1.7, 1.5, 1.6, 1.8,
          1.7, 1.9, 1.8, 2.1, 1.9, 2.2, 2.0, 2.3, 2.1, 2.4,
          2.3, 2.5, 2.4, 2.7, 2.5, 2.8, 2.6, 2.9, 2.8, 3.1,
          3.0, 3.2, 3.1, 3.3, 3.2, 3.4, 3.3, 3.2, 3.5, 3.4,
          3.6, 3.5, 3.3, 3.7, 3.5, 3.8, 3.6, 3.9, 3.7, 4.0,
          3.8, 4.0, 3.9, 4.1, 4.0, 4.2, 4.1, 4.3, 4.2, 4.1,
          4.2, 4.0, 4.3, 4.1]
w85_sc = [0.6, 0.8, 0.7, 0.9, 1.0, 0.9, 1.1, 1.0, 1.2, 1.1,
          1.2, 1.1, 1.3, 1.2, 1.3, 1.2, 1.1, 1.2, 1.0, 1.1,
          1.0, 1.1, 0.9, 1.0, 1.1, 1.2, 1.1, 1.3, 1.2, 1.4,
          1.3, 1.5, 1.4, 1.6, 1.5, 1.7, 1.6, 1.8, 1.7, 1.9,
          1.8, 2.0, 1.9, 2.1, 2.0, 2.2, 2.1, 2.3, 2.2, 2.4,
          2.3, 2.5, 2.4, 2.6, 2.5, 2.7, 2.6, 2.8, 2.7, 3.0,
          2.9, 3.1, 3.0, 3.2, 3.1, 3.3, 3.0, 3.2, 3.4, 3.3,
          3.5, 3.4, 3.6, 3.5, 3.7, 3.6, 3.8, 3.7, 3.9, 3.8,
          4.0, 3.9, 4.1, 4.0, 4.2, 4.3, 4.4, 4.3, 4.5, 4.4,
          4.3, 4.2, 4.1, 4.9]
w85_hi = [3.0, 2.8, 3.2, 3.1, 3.4, 3.3, 3.5, 3.4, 3.7, 3.6,
          3.8, 3.6, 3.9, 3.7, 4.0, 3.8, 4.1, 3.9, 4.2, 4.0,
          4.3, 4.1, 4.4, 4.2, 4.5, 6.2, 4.8, 4.6, 4.9, 4.7,
          5.0, 4.8, 5.1, 4.9, 5.3, 5.1, 5.4, 5.2, 5.6, 5.5,
          5.8, 5.6, 6.0, 5.8, 6.2, 6.4, 6.9, 6.5, 6.8, 6.6,
          7.0, 6.8, 7.3, 7.1, 7.5, 7.3, 7.6, 7.4, 7.8, 7.6,
          7.9, 7.7, 8.2, 8.0, 8.4, 8.2, 8.5, 8.3, 8.7, 8.6,
          8.9, 8.7, 9.1, 9.0, 9.3, 9.2, 9.5, 9.4, 9.7, 9.5,
          9.8, 9.6, 10.0, 9.9, 10.2, 10.1, 10.5, 10.4, 10.8, 10.6,
          11.0, 10.9, 11.0, 10.8]
w85_lo = [-2.0, -1.7, -1.9, -1.6, -1.8, -1.5, -1.7, -1.4, -1.6, -1.5,
          -1.4, -1.6, -1.3, -1.5, -1.2, -1.4, -1.1, -1.3, -1.0, -1.2,
          -0.9, -1.1, -0.8, -1.0, -0.7, -0.9, -0.6, -0.8, -0.5, -0.7,
          -0.4, -0.6, -0.3, -0.5, -0.2, -0.4, -0.1, -0.3, 0.0, -0.2,
          0.1, -0.1, 0.2, 0.0, 0.3, 0.1, 0.4, 0.2, 0.5, 0.4,
          0.6, 0.5, 0.8, 0.7, 1.0, 0.9, 1.1, 1.0, 1.3, 1.2,
          1.4, 1.3, 1.5, 1.4, 1.7, 1.6, 1.8, 1.7, 1.9, 1.8,
          2.0, 1.9, 2.1, 2.0, 2.2, 2.1, 2.3, 2.2, 2.4, 2.3,
          2.5, 2.4, 2.6, 2.5, 2.7, 2.6, 2.8, 2.7, 2.9, 2.8,
          3.0, 3.1, 3.2, 3.3]

panels = [
    dict(lines=[s45_ne, s45_nm, s45_nw, s45_nc, s45_jh, s45_yr, s45_sc],
         lo=s45_lo, hi=s45_hi, ylim=(-1, 4), major=1, minor=0.25),
    dict(lines=[s85_ne, s85_nm, s85_nw, s85_nc, s85_jh, s85_yr, s85_sc],
         lo=s85_lo, hi=s85_hi, ylim=(-1, 8.1), major=2, minor=1),
    dict(lines=[w45_ne, w45_nm, w45_nw, w45_nc, w45_jh, w45_yr, w45_sc],
         lo=w45_lo, hi=w45_hi, ylim=(-2.2, 7.0), major=2, minor=0.5),
    dict(lines=[w85_ne, w85_nm, w85_nw, w85_nc, w85_jh, w85_yr, w85_sc],
         lo=w85_lo, hi=w85_hi, ylim=(-2, 11), major=2, minor=1),
]

W, H = 671, 345
fig = plt.figure(figsize=(W / 100, H / 100), dpi=100)

def box(x0, y0, x1, y1):
    return [x0 / W, 1 - y1 / H, (x1 - x0) / W, (y1 - y0) / H]

rects = [box(44.7, 22.5, 331, 145.3), box(360.7, 22.5, 650, 145.3),
         box(44.7, 153.5, 331, 277), box(360.7, 153.5, 650, 277)]

band_color = "#e3e3e3"
spine_color = "#4a4a4a"
title_x = [0.5, 0.475]

for i, (p, r) in enumerate(zip(panels, rects)):
    ax = fig.add_axes(r)
    ax.fill_between(years, p["lo"], p["hi"], color=band_color, lw=0, zorder=1)
    for vals, c in zip(p["lines"], colors):
        ax.plot(years, vals, color=c, lw=0.85, zorder=2)
    ax.set_xlim(2006.3, 2100.6)
    ax.set_ylim(*p["ylim"])
    ax.xaxis.set_major_locator(FixedLocator([2010, 2030, 2050, 2070, 2090]))
    ax.xaxis.set_minor_locator(FixedLocator(np.arange(2006, 2101, 4)))
    ax.yaxis.set_major_locator(MultipleLocator(p["major"]))
    ax.yaxis.set_minor_locator(MultipleLocator(p["minor"]))
    ax.tick_params(which="both", direction="in", top=True, right=True,
                   colors=spine_color, labelcolor="black", labelsize=10)
    ax.tick_params(which="major", length=4, width=0.8)
    ax.tick_params(which="minor", length=2, width=0.6)
    ax.tick_params(axis="y", pad=3)
    ax.tick_params(axis="x", pad=4)
    for s in ax.spines.values():
        s.set_color(spine_color)
        s.set_linewidth(1.2)
    row, col = divmod(i, 2)
    if row == 0:
        ax.set_xticklabels([])
        ax.set_title(panel_titles[col], fontsize=10.5, fontweight="bold",
                     pad=3, x=title_x[col])
    else:
        ax.set_xlabel(xlabel_text, fontsize=10, labelpad=1)
    if col == 0:
        ax.set_ylabel(ylabel_text, fontsize=10)
        ax.yaxis.set_label_coords(-0.058, 0.5)
    tx = 0.045 if col == 0 else 0.065
    ax.text(tx, 0.86, season_labels[row], transform=ax.transAxes,
            fontsize=10, va="center", ha="left")

handles = [Line2D([], [], color=c, lw=1.0) for c in colors]
handles.append(Patch(facecolor="#d3dcdc", edgecolor="none"))
labels = regions + [band_label]
fig.legend(handles, labels, ncol=8, loc="center", bbox_to_anchor=(0.389, 0.052),
           frameon=False, fontsize=7.4, handlelength=1.5, handleheight=0.8,
           handletextpad=0.12, columnspacing=0.5, borderaxespad=0)

fig.savefig("out.png", dpi=100)
